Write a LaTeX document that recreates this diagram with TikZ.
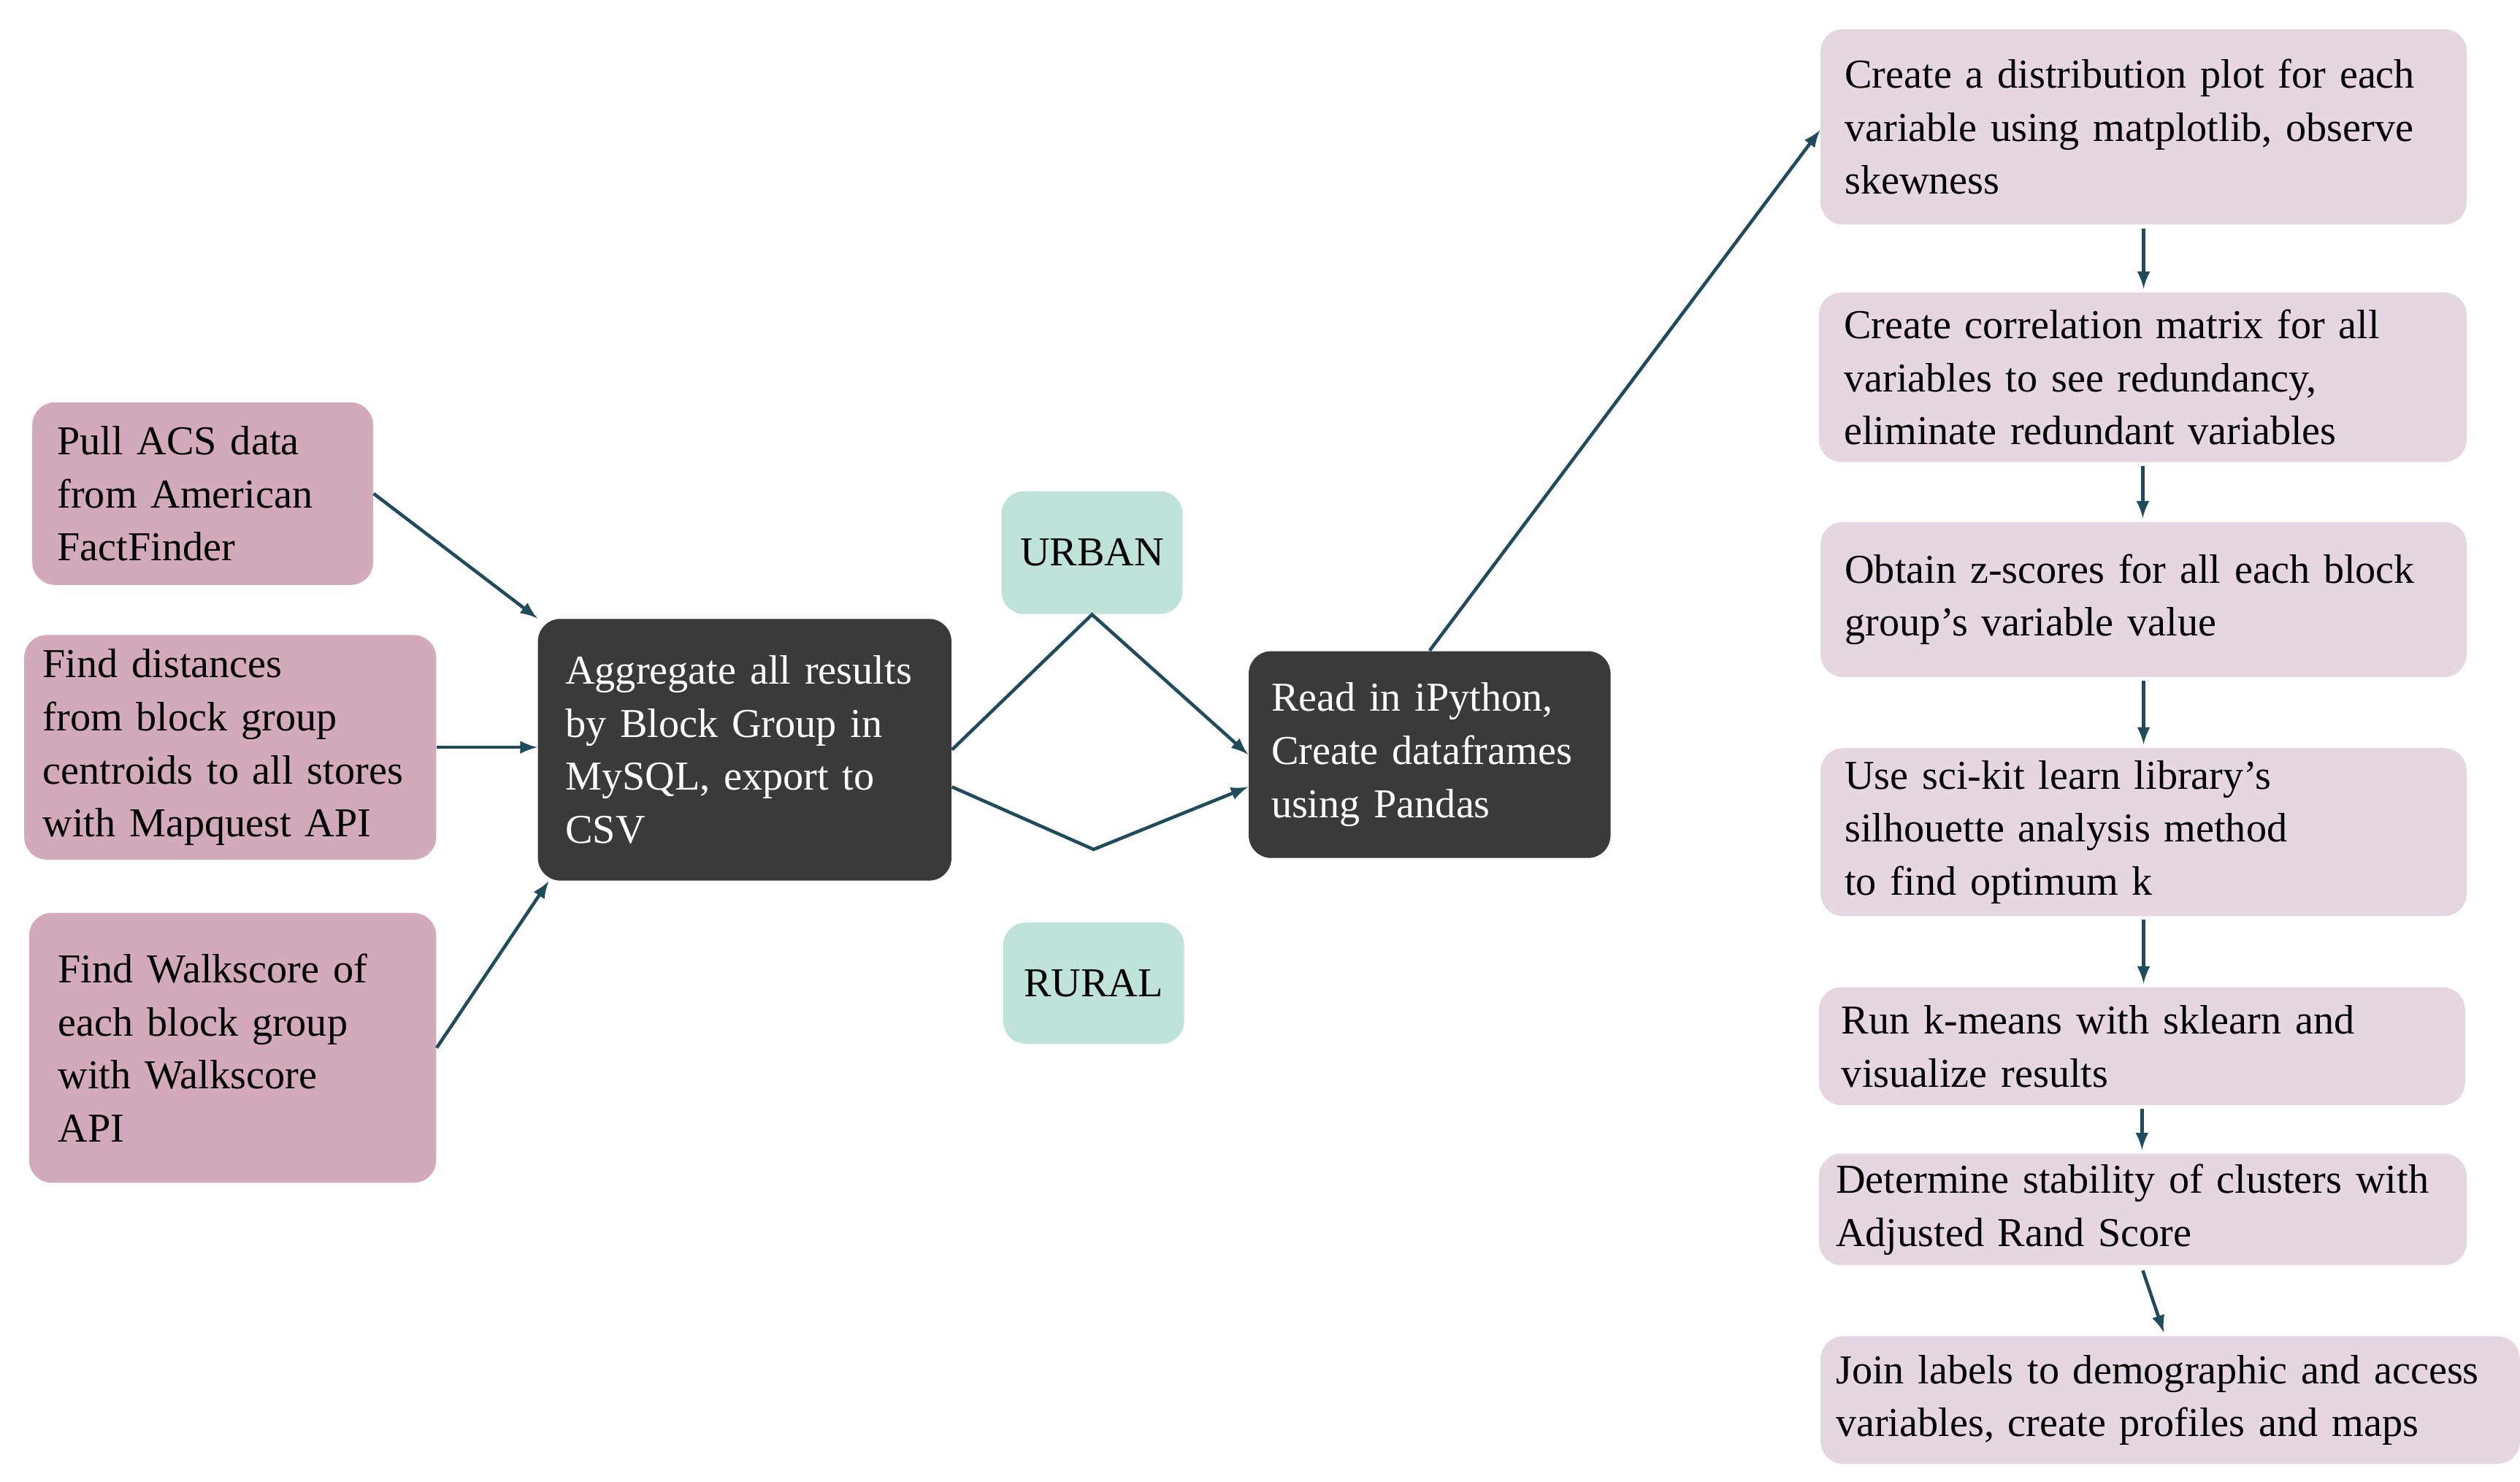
\documentclass[tikz,border=0pt]{standalone}
\usepackage{fontspec}
\setmainfont{Liberation Serif}
\usetikzlibrary{positioning}
\def\u{0.02212cm}
\definecolor{pinkbox}{HTML}{D3AABB}
\definecolor{darkbox}{HTML}{3A3A3A}
\definecolor{tealbox}{HTML}{BFE3DA}
\definecolor{lilacbox}{HTML}{E6D6E1}
\definecolor{arrowc}{HTML}{1F4B5C}
\tikzset{
  box/.style={rectangle, rounded corners=14*\u, align=left, inner xsep=0pt, inner sep=0pt,
    font=\fontsize{16}{20.7}\selectfont},
  src/.style={box, fill=pinkbox},
  agg/.style={box, fill=darkbox, text=white},
  tag/.style={box, fill=tealbox, align=center},
  stage/.style={box, fill=lilacbox},
  link/.style={draw=arrowc, line width=1.3pt, -latex}
}
\begin{document}
\begin{tikzpicture}[x=\u, y=-\u]
  \useasboundingbox (0,0) rectangle (1560,917);
  % sources
  \node[src, minimum width=211*\u, minimum height=113*\u, text width=180*\u] (acs) at (125.5,305.5)
    {Pull ACS data\\from American\\FactFinder};
  \node[src, minimum width=255*\u, minimum height=139*\u, text width=232*\u] (dist) at (142.5,462.5)
    {Find distances\\from block group\\centroids to all stores\\with Mapquest API};
  \node[src, minimum width=252*\u, minimum height=167*\u, text width=216*\u] (walk) at (144,648.5)
    {Find Walkscore of\\each block group\\with Walkscore\\API};
  % middle
  \node[agg, minimum width=256*\u, minimum height=162*\u, text width=222*\u] (sql) at (461,464)
    {Aggregate all results\\by Block Group in\\MySQL, export to\\CSV};
  \node[tag, minimum width=112*\u, minimum height=76*\u] (urban) at (676,342) {URBAN};
  \node[tag, minimum width=112*\u, minimum height=75*\u] (rural) at (677,608.5) {RURAL};
  \node[agg, minimum width=224*\u, minimum height=128*\u, text width=196*\u] (pandas) at (885,467)
    {Read in iPython,\\Create dataframes\\using Pandas};
  % analysis steps
  \node[stage, minimum width=400*\u, minimum height=121*\u, text width=370*\u] (s1) at (1327,78.5)
    {Create a distribution plot for each\\variable using matplotlib, observe\\skewness};
  \node[stage, minimum width=401*\u, minimum height=105*\u, text width=370*\u] (s2) at (1326.5,233.5)
    {Create correlation matrix for all\\variables to see redundancy,\\eliminate redundant variables};
  \node[stage, minimum width=400*\u, minimum height=96*\u, text width=370*\u] (s3) at (1327,371)
    {Obtain z-scores for all each block\\group's variable value};
  \node[stage, minimum width=400*\u, minimum height=104*\u, text width=370*\u] (s4) at (1327,515)
    {Use sci-kit learn library's\\silhouette analysis method\\to find optimum k};
  \node[stage, minimum width=400*\u, minimum height=73*\u, text width=372*\u] (s5) at (1326,647.5)
    {Run k-means with sklearn and\\visualize results};
  \node[stage, minimum width=401*\u, minimum height=69*\u, text width=380*\u] (s6) at (1326.5,748.5)
    {Determine stability of clusters with\\Adjusted Rand Score};
  \node[stage, minimum width=433*\u, minimum height=79*\u, text width=414*\u] (s7) at (1343.5,866.5)
    {Join labels to demographic and access\\variables, create profiles and maps};
  % connectors
  \draw[link] (acs.east) -- (sql.north west);
  \draw[link] (dist.east) -- (sql.west |- dist.east);
  \draw[link] (walk.east) -- ([xshift=7*\u]sql.south west);
  \draw[link] (sql.east) -- (urban.south) -- (pandas.west);
  \draw[link] ([yshift=-23*\u]sql.east) -- ([yshift=45*\u]rural.north) -- ([yshift=-20*\u]pandas.west);
  \draw[link] (pandas.north) -- ([yshift=-2*\u]s1.west);
  \foreach \a/\b in {s1/s2, s2/s3, s3/s4, s4/s5, s5/s6}
    \draw[link] ([yshift=-2*\u]\a.south) -- ([yshift=2*\u]\a.south |- \b.north);
  \draw[link] ([yshift=-3*\u]s6.south) -- ([yshift=2*\u, xshift=-4*\u]s7.north);
\end{tikzpicture}
\end{document}
